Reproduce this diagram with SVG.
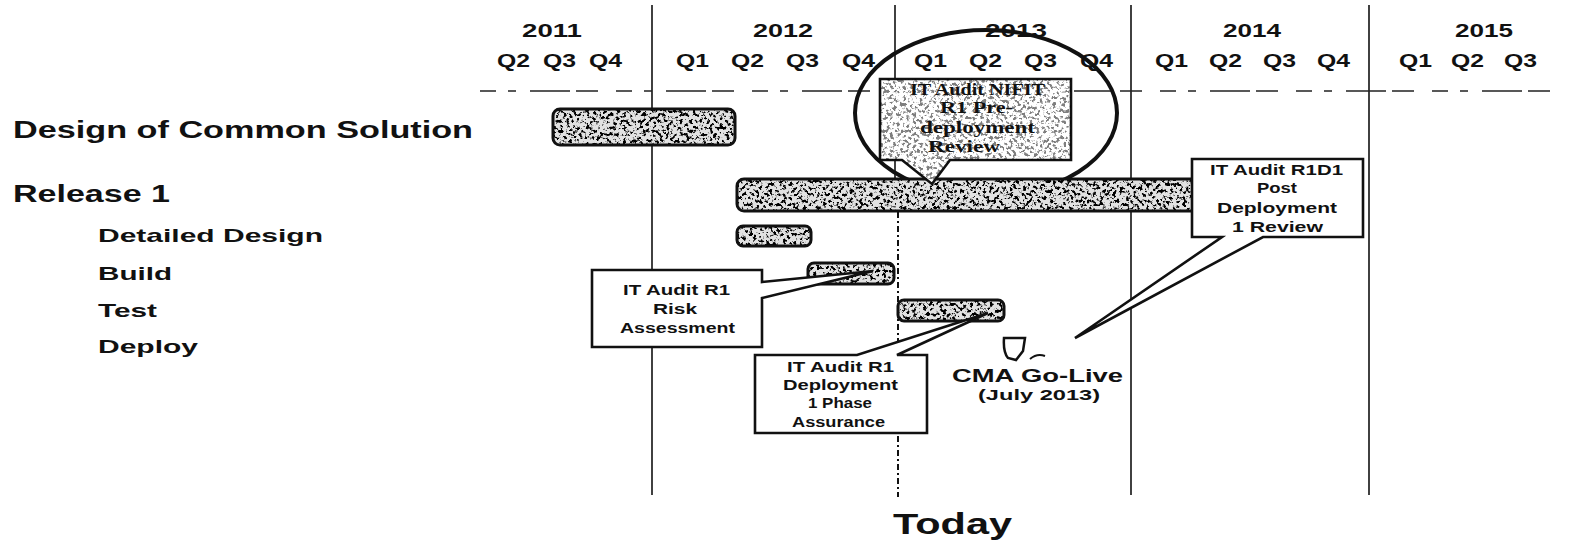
<svg xmlns="http://www.w3.org/2000/svg" width="1570" height="542" viewBox="0 0 1570 542">
<style>
.hd{font-family:"Liberation Sans",Arial,sans-serif;font-weight:bold;fill:#111}
.yr{font-size:19px}
.q{font-size:18px}
.lb{font-family:"Liberation Sans",Arial,sans-serif;font-weight:bold;fill:#111}
.main{font-size:23px}
.sub{font-size:19px}
.grid{stroke:#111;stroke-width:1.6;fill:none}
.bar{fill:#e2e2e2}
.barline{fill:none;stroke:#111;stroke-width:3}
.co{fill:#fff;stroke:#111;stroke-width:2.6;stroke-linejoin:miter}
.ct{font-family:"Liberation Sans",Arial,sans-serif;font-weight:bold;font-size:14px;fill:#111}
.cs{font-family:"Liberation Serif","Times New Roman",serif;font-weight:bold;font-size:16px;fill:#111}
</style>
<defs>
<filter id="speck" x="0" y="0" width="1" height="1" color-interpolation-filters="sRGB">
<feTurbulence type="fractalNoise" baseFrequency="0.3" numOctaves="3" seed="7" result="n"/>
<feColorMatrix in="n" type="matrix" values="0 0 0 0 0  0 0 0 0 0  0 0 0 0 0  -8 0 0 0 3.9" result="d"/>
<feComposite in="d" in2="SourceAlpha" operator="in"/>
</filter>
</defs>
<rect width="1570" height="542" fill="#fff"/>

<g id="grid">
<line class="grid" x1="652" y1="5" x2="652" y2="495"/>
<line class="grid" x1="895" y1="5" x2="895" y2="180"/>
<line class="grid" x1="1131" y1="5" x2="1131" y2="495"/>
<line class="grid" x1="1369" y1="5" x2="1369" y2="495"/>
<line x1="480" y1="91" x2="1558" y2="91" stroke="#222" stroke-width="1.3" stroke-dasharray="16 12 8 14 40 6 22 18"/>
</g>

<g id="header">
<text class="hd yr" x="522" y="37" textLength="60" lengthAdjust="spacingAndGlyphs">2011</text>
<text class="hd yr" x="753" y="37" textLength="60" lengthAdjust="spacingAndGlyphs">2012</text>
<text class="hd yr" x="985" y="37" textLength="62" lengthAdjust="spacingAndGlyphs">2013</text>
<text class="hd yr" x="1223" y="37" textLength="58" lengthAdjust="spacingAndGlyphs">2014</text>
<text class="hd yr" x="1455" y="37" textLength="58" lengthAdjust="spacingAndGlyphs">2015</text>
<text class="hd q" x="497" y="67" textLength="33" lengthAdjust="spacingAndGlyphs">Q2</text>
<text class="hd q" x="543" y="67" textLength="33" lengthAdjust="spacingAndGlyphs">Q3</text>
<text class="hd q" x="589" y="67" textLength="33" lengthAdjust="spacingAndGlyphs">Q4</text>
<text class="hd q" x="676" y="67" textLength="33" lengthAdjust="spacingAndGlyphs">Q1</text>
<text class="hd q" x="731" y="67" textLength="33" lengthAdjust="spacingAndGlyphs">Q2</text>
<text class="hd q" x="786" y="67" textLength="33" lengthAdjust="spacingAndGlyphs">Q3</text>
<text class="hd q" x="842" y="67" textLength="33" lengthAdjust="spacingAndGlyphs">Q4</text>
<text class="hd q" x="914" y="67" textLength="33" lengthAdjust="spacingAndGlyphs">Q1</text>
<text class="hd q" x="969" y="67" textLength="33" lengthAdjust="spacingAndGlyphs">Q2</text>
<text class="hd q" x="1024" y="67" textLength="33" lengthAdjust="spacingAndGlyphs">Q3</text>
<text class="hd q" x="1080" y="67" textLength="33" lengthAdjust="spacingAndGlyphs">Q4</text>
<text class="hd q" x="1155" y="67" textLength="33" lengthAdjust="spacingAndGlyphs">Q1</text>
<text class="hd q" x="1209" y="67" textLength="33" lengthAdjust="spacingAndGlyphs">Q2</text>
<text class="hd q" x="1263" y="67" textLength="33" lengthAdjust="spacingAndGlyphs">Q3</text>
<text class="hd q" x="1317" y="67" textLength="33" lengthAdjust="spacingAndGlyphs">Q4</text>
<text class="hd q" x="1399" y="67" textLength="33" lengthAdjust="spacingAndGlyphs">Q1</text>
<text class="hd q" x="1451" y="67" textLength="33" lengthAdjust="spacingAndGlyphs">Q2</text>
<text class="hd q" x="1504" y="67" textLength="33" lengthAdjust="spacingAndGlyphs">Q3</text>
</g>

<g id="labels">
<text class="lb main" x="13" y="138" textLength="460" lengthAdjust="spacingAndGlyphs">Design of Common Solution</text>
<text class="lb main" x="13" y="202" textLength="157" lengthAdjust="spacingAndGlyphs">Release 1</text>
<text class="lb sub" x="98" y="242" textLength="225" lengthAdjust="spacingAndGlyphs">Detailed Design</text>
<text class="lb sub" x="98" y="280" textLength="74" lengthAdjust="spacingAndGlyphs">Build</text>
<text class="lb sub" x="98" y="317" textLength="59" lengthAdjust="spacingAndGlyphs">Test</text>
<text class="lb sub" x="98" y="353" textLength="100" lengthAdjust="spacingAndGlyphs">Deploy</text>
</g>

<g id="bar-design">
<rect class="bar" x="553" y="109" width="182" height="36" rx="7"/>
<rect x="553" y="109" width="182" height="36" rx="7" filter="url(#speck)"/>
<rect class="barline" x="553" y="109" width="182" height="36" rx="7"/>
</g>

<g id="highlight-ellipse">
<ellipse cx="986" cy="113" rx="131" ry="83" fill="none" stroke="#111" stroke-width="4"/>
</g>

<g id="bar-release1">
<rect class="bar" x="737" y="179" width="468" height="32" rx="7"/>
<rect x="737" y="179" width="468" height="32" rx="7" filter="url(#speck)"/>
<rect class="barline" x="737" y="179" width="468" height="32" rx="7"/>
</g>

<g id="bar-detailed">
<rect class="bar" x="737" y="226" width="74" height="20" rx="6"/>
<rect x="737" y="226" width="74" height="20" rx="6" filter="url(#speck)"/>
<rect class="barline" x="737" y="226" width="74" height="20" rx="6"/>
</g>

<g id="bar-build">
<rect class="bar" x="808" y="263" width="86" height="21" rx="6"/>
<rect x="808" y="263" width="86" height="21" rx="6" filter="url(#speck)"/>
<rect class="barline" x="808" y="263" width="86" height="21" rx="6"/>
</g>

<g id="bar-test">
<rect class="bar" x="898" y="300" width="106" height="21" rx="6"/>
<rect x="898" y="300" width="106" height="21" rx="6" filter="url(#speck)"/>
<rect class="barline" x="898" y="300" width="106" height="21" rx="6"/>
</g>

<g id="today">
<line x1="898" y1="212" x2="898" y2="497" stroke="#111" stroke-width="2" stroke-dasharray="6 3 2 3"/>
<text class="hd" x="893" y="534" font-size="29" textLength="119" lengthAdjust="spacingAndGlyphs">Today</text>
</g>

<g id="callout-predeploy">
<path class="co" d="M880,79 H1071 V160 H950 L932,184 L902,160 H880 Z"/>
<path d="M880,79 H1071 V160 H950 L932,184 L902,160 H880 Z" filter="url(#speck)" opacity="0.5"/>
<text class="cs" x="910" y="95" textLength="135" lengthAdjust="spacingAndGlyphs">IT Audit NIFIT</text>
<text class="cs" x="940" y="113" textLength="73" lengthAdjust="spacingAndGlyphs">R1 Pre-</text>
<text class="cs" x="920" y="133" textLength="115" lengthAdjust="spacingAndGlyphs">deployment</text>
<text class="cs" x="928" y="152" textLength="72" lengthAdjust="spacingAndGlyphs">Review</text>
</g>

<g id="callout-r1d1">
<path class="co" d="M1192,159 H1363 V237 H1263 L1075,338 L1222,237 H1192 Z"/>
<text class="ct" x="1210" y="175" textLength="133" lengthAdjust="spacingAndGlyphs">IT Audit R1D1</text>
<text class="ct" x="1257" y="193" textLength="40" lengthAdjust="spacingAndGlyphs">Post</text>
<text class="ct" x="1217" y="213" textLength="120" lengthAdjust="spacingAndGlyphs">Deployment</text>
<text class="ct" x="1232" y="232" textLength="91" lengthAdjust="spacingAndGlyphs">1 Review</text>
</g>

<g id="callout-risk">
<path class="co" d="M592,270 H762 V282 L873,271 L762,298 V347 H592 Z"/>
<text class="ct" x="623" y="295" textLength="107" lengthAdjust="spacingAndGlyphs">IT Audit R1</text>
<text class="ct" x="653" y="314" textLength="44" lengthAdjust="spacingAndGlyphs">Risk</text>
<text class="ct" x="620" y="333" textLength="115" lengthAdjust="spacingAndGlyphs">Assessment</text>
</g>

<g id="callout-deploy-assurance">
<path class="co" d="M755,355 H857 L988,313 L897,355 H927 V433 H755 Z"/>
<text class="ct" x="787" y="372" textLength="107" lengthAdjust="spacingAndGlyphs">IT Audit R1</text>
<text class="ct" x="783" y="390" textLength="115" lengthAdjust="spacingAndGlyphs">Deployment</text>
<text class="ct" x="808" y="408" textLength="64" lengthAdjust="spacingAndGlyphs">1 Phase</text>
<text class="ct" x="792" y="427" textLength="93" lengthAdjust="spacingAndGlyphs">Assurance</text>
</g>

<g id="milestone-golive">
<path d="M1004,338 L1025,338 L1023,351 L1016,360 L1008,358 Q1003,352 1004,338 Z" fill="#fff" stroke="#111" stroke-width="2.5"/>
<path d="M1030,359 Q1037,353 1045,356" fill="none" stroke="#111" stroke-width="2"/>
<text class="lb" x="952" y="382" font-size="18" textLength="171" lengthAdjust="spacingAndGlyphs">CMA Go-Live</text>
<text class="lb" x="978" y="400" font-size="14" textLength="122" lengthAdjust="spacingAndGlyphs">(July 2013)</text>
</g>

<g id="connectors"></g>
</svg>
